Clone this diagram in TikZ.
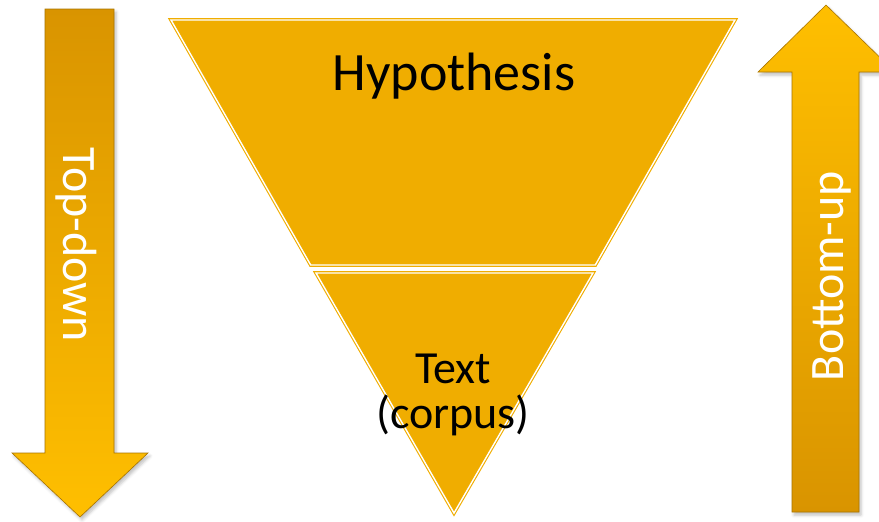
\documentclass[tikz,border=0pt]{standalone}
\usepackage{fontspec}
\setmainfont{Carlito}
\usetikzlibrary{shadows.blur}
\definecolor{shapeorange}{HTML}{F0AD00}
\definecolor{arrdark}{HTML}{D99400}
\definecolor{arrlight}{HTML}{FFBF00}
\definecolor{arredge}{HTML}{A87400}
\tikzset{
  funnelpart/.style={fill=shapeorange, draw=shapeorange, line width=3.6pt, line join=miter},
  whiteline/.style={draw=white, line width=1.4pt, line join=miter},
  bigarrow/.style={draw=arredge, line width=0.6pt, blur shadow={shadow xshift=2pt, shadow yshift=-3pt, shadow opacity=25, shadow blur radius=3pt}},
  blacklabel/.style={text=black, inner sep=0pt},
  whitelabel/.style={text=white, inner sep=0pt, font=\fontsize{48}{52}\selectfont}
}
\begin{document}
\begin{tikzpicture}[x=1pt, y=-1pt]
\useasboundingbox (0,0) rectangle (879,522);
\clip (0,0) rectangle (879,522);
% left arrow (down)
\path[bigarrow, top color=arrdark, bottom color=arrlight]
  (45,9) -- (114,9) -- (114,453) -- (148,453) -- (80,517) -- (12,453) -- (45,453) -- cycle;
% right arrow (up)
\path[bigarrow, top color=arrlight, bottom color=arrdark]
  (826,5) -- (895,72) -- (859,72) -- (859,512) -- (792,512) -- (792,72) -- (758,72) -- cycle;
% funnel top part
\path[funnelpart] (171,20) -- (735,20) -- (595.3,265) -- (310.7,265) -- cycle;
\path[whiteline] (171,20) -- (735,20) -- (595.3,265) -- (310.7,265) -- cycle;
% funnel bottom part
\path[funnelpart] (316,273) -- (593,273) -- (454,513) -- cycle;
\path[whiteline] (316,273) -- (593,273) -- (454,513) -- cycle;
% labels
\node[blacklabel, anchor=base, font=\fontsize{54}{58}\selectfont] (hyp) at (454,90) {Hypothesis};
\node[blacklabel, anchor=base, font=\fontsize{46}{50}\selectfont] (txt) at (453,383) {Text};
\node[blacklabel, anchor=base, font=\fontsize{46}{50}\selectfont] (corp) at (453,428) {(corpus)};
\node[whitelabel, anchor=base, rotate=-90] (td) at (63,245) {Top-down};
\node[whitelabel, anchor=base, rotate=90] (bu) at (843,276) {Bottom-up};
\end{tikzpicture}
\end{document}
